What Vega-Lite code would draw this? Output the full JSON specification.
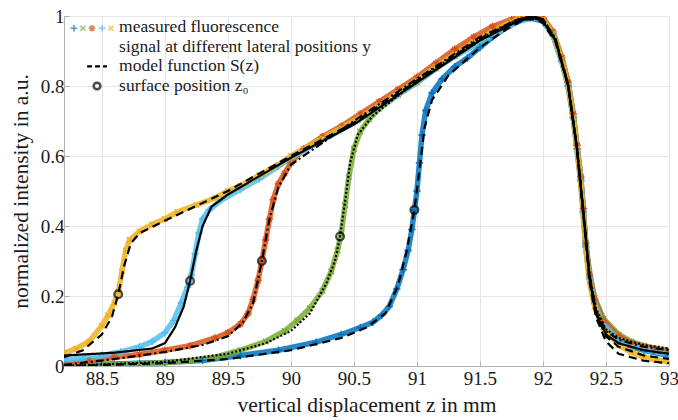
{
  "$schema": "https://vega.github.io/schema/vega-lite/v6.json",
  "autosize": {"type": "none"},
  "padding": {"left": 64, "top": 16, "right": 9, "bottom": 54},
  "width": 605,
  "height": 350,
  "config": {
    "view": {"stroke": null},
    "axis": {
      "labelFont": "Liberation Serif, serif",
      "titleFont": "Liberation Serif, serif",
      "labelFontSize": 19,
      "titleFontSize": 21.5,
      "titleFontWeight": "normal",
      "labelColor": "#1a1a1a",
      "titleColor": "#1a1a1a",
      "gridColor": "#e6e6e6",
      "domainColor": "#b0b0b0",
      "tickColor": "#b0b0b0",
      "tickSize": -5
    }
  },
  "datasets": {
    "meas": [
      {"s":"s1","z":88.2,"v":0.003},{"s":"s1","z":88.5,"v":0.005},{"s":"s1","z":88.8,"v":0.008},{"s":"s1","z":89.0,"v":0.01},{"s":"s1","z":89.3,"v":0.016},{"s":"s1","z":89.6,"v":0.03},{"s":"s1","z":89.9,"v":0.045},{"s":"s1","z":90.2,"v":0.068},{"s":"s1","z":90.4,"v":0.09},{"s":"s1","z":90.55,"v":0.11},{"s":"s1","z":90.65,"v":0.125},{"s":"s1","z":90.72,"v":0.145},{"s":"s1","z":90.78,"v":0.17},{"s":"s1","z":90.84,"v":0.22},{"s":"s1","z":90.89,"v":0.275},{"s":"s1","z":90.93,"v":0.33},{"s":"s1","z":90.96,"v":0.39},{"s":"s1","z":90.98,"v":0.445},{"s":"s1","z":91.0,"v":0.5},{"s":"s1","z":91.02,"v":0.58},{"s":"s1","z":91.04,"v":0.66},{"s":"s1","z":91.07,"v":0.73},{"s":"s1","z":91.12,"v":0.78},{"s":"s1","z":91.2,"v":0.82},{"s":"s1","z":91.3,"v":0.855},{"s":"s1","z":91.4,"v":0.88},{"s":"s1","z":91.5,"v":0.91},{"s":"s1","z":91.6,"v":0.94},{"s":"s1","z":91.7,"v":0.965},{"s":"s1","z":91.8,"v":0.985},{"s":"s1","z":91.9,"v":0.995},{"s":"s1","z":92.0,"v":0.985},{"s":"s1","z":92.08,"v":0.945},{"s":"s1","z":92.15,"v":0.87},{"s":"s1","z":92.2,"v":0.8},{"s":"s1","z":92.24,"v":0.71},{"s":"s1","z":92.27,"v":0.62},{"s":"s1","z":92.3,"v":0.53},{"s":"s1","z":92.32,"v":0.44},{"s":"s1","z":92.34,"v":0.34},{"s":"s1","z":92.37,"v":0.25},{"s":"s1","z":92.41,"v":0.18},{"s":"s1","z":92.48,"v":0.12},{"s":"s1","z":92.6,"v":0.075},{"s":"s1","z":92.7,"v":0.055},{"s":"s1","z":92.8,"v":0.045},{"s":"s1","z":92.9,"v":0.037},{"s":"s1","z":93.0,"v":0.03},

      {"s":"s2","z":88.2,"v":0.0},{"s":"s2","z":88.5,"v":0.003},{"s":"s2","z":88.8,"v":0.007},{"s":"s2","z":89.0,"v":0.01},{"s":"s2","z":89.2,"v":0.015},{"s":"s2","z":89.4,"v":0.025},{"s":"s2","z":89.6,"v":0.045},{"s":"s2","z":89.8,"v":0.07},{"s":"s2","z":89.95,"v":0.1},{"s":"s2","z":90.05,"v":0.13},{"s":"s2","z":90.15,"v":0.165},{"s":"s2","z":90.25,"v":0.215},{"s":"s2","z":90.32,"v":0.27},{"s":"s2","z":90.37,"v":0.33},{"s":"s2","z":90.4,"v":0.38},{"s":"s2","z":90.43,"v":0.46},{"s":"s2","z":90.46,"v":0.54},{"s":"s2","z":90.5,"v":0.62},{"s":"s2","z":90.55,"v":0.67},{"s":"s2","z":90.62,"v":0.705},{"s":"s2","z":90.7,"v":0.735},{"s":"s2","z":90.85,"v":0.775},{"s":"s2","z":91.0,"v":0.81},{"s":"s2","z":91.15,"v":0.85},{"s":"s2","z":91.3,"v":0.885},{"s":"s2","z":91.45,"v":0.92},{"s":"s2","z":91.6,"v":0.95},{"s":"s2","z":91.75,"v":0.98},{"s":"s2","z":91.85,"v":0.995},{"s":"s2","z":91.95,"v":1.0},{"s":"s2","z":92.0,"v":0.99},{"s":"s2","z":92.08,"v":0.95},{"s":"s2","z":92.15,"v":0.88},{"s":"s2","z":92.2,"v":0.81},{"s":"s2","z":92.24,"v":0.72},{"s":"s2","z":92.27,"v":0.63},{"s":"s2","z":92.3,"v":0.54},{"s":"s2","z":92.32,"v":0.45},{"s":"s2","z":92.34,"v":0.35},{"s":"s2","z":92.37,"v":0.265},{"s":"s2","z":92.41,"v":0.195},{"s":"s2","z":92.48,"v":0.135},{"s":"s2","z":92.6,"v":0.09},{"s":"s2","z":92.7,"v":0.07},{"s":"s2","z":92.8,"v":0.058},{"s":"s2","z":92.9,"v":0.05},{"s":"s2","z":93.0,"v":0.045},

      {"s":"s3","z":88.2,"v":0.005},{"s":"s3","z":88.4,"v":0.015},{"s":"s3","z":88.6,"v":0.025},{"s":"s3","z":88.8,"v":0.033},{"s":"s3","z":89.0,"v":0.045},{"s":"s3","z":89.2,"v":0.058},{"s":"s3","z":89.4,"v":0.08},{"s":"s3","z":89.5,"v":0.095},{"s":"s3","z":89.6,"v":0.12},{"s":"s3","z":89.66,"v":0.15},{"s":"s3","z":89.7,"v":0.19},{"s":"s3","z":89.74,"v":0.245},{"s":"s3","z":89.77,"v":0.3},{"s":"s3","z":89.8,"v":0.36},{"s":"s3","z":89.83,"v":0.42},{"s":"s3","z":89.86,"v":0.475},{"s":"s3","z":89.9,"v":0.52},{"s":"s3","z":89.95,"v":0.55},{"s":"s3","z":90.0,"v":0.58},{"s":"s3","z":90.1,"v":0.62},{"s":"s3","z":90.25,"v":0.655},{"s":"s3","z":90.4,"v":0.685},{"s":"s3","z":90.55,"v":0.72},{"s":"s3","z":90.7,"v":0.755},{"s":"s3","z":90.85,"v":0.79},{"s":"s3","z":91.0,"v":0.825},{"s":"s3","z":91.15,"v":0.865},{"s":"s3","z":91.3,"v":0.905},{"s":"s3","z":91.45,"v":0.94},{"s":"s3","z":91.6,"v":0.97},{"s":"s3","z":91.75,"v":0.99},{"s":"s3","z":91.85,"v":1.0},{"s":"s3","z":91.95,"v":1.0},{"s":"s3","z":92.0,"v":0.995},{"s":"s3","z":92.08,"v":0.955},{"s":"s3","z":92.15,"v":0.88},{"s":"s3","z":92.2,"v":0.81},{"s":"s3","z":92.24,"v":0.72},{"s":"s3","z":92.27,"v":0.63},{"s":"s3","z":92.3,"v":0.54},{"s":"s3","z":92.32,"v":0.45},{"s":"s3","z":92.34,"v":0.35},{"s":"s3","z":92.37,"v":0.26},{"s":"s3","z":92.41,"v":0.19},{"s":"s3","z":92.48,"v":0.13},{"s":"s3","z":92.6,"v":0.085},{"s":"s3","z":92.7,"v":0.065},{"s":"s3","z":92.8,"v":0.055},{"s":"s3","z":92.9,"v":0.047},{"s":"s3","z":93.0,"v":0.04},

      {"s":"s4","z":88.2,"v":0.018},{"s":"s4","z":88.35,"v":0.022},{"s":"s4","z":88.5,"v":0.03},{"s":"s4","z":88.65,"v":0.04},{"s":"s4","z":88.8,"v":0.055},{"s":"s4","z":88.9,"v":0.07},{"s":"s4","z":89.0,"v":0.095},{"s":"s4","z":89.07,"v":0.13},{"s":"s4","z":89.13,"v":0.18},{"s":"s4","z":89.18,"v":0.225},{"s":"s4","z":89.21,"v":0.26},{"s":"s4","z":89.24,"v":0.32},{"s":"s4","z":89.27,"v":0.38},{"s":"s4","z":89.3,"v":0.42},{"s":"s4","z":89.35,"v":0.445},{"s":"s4","z":89.45,"v":0.475},{"s":"s4","z":89.6,"v":0.505},{"s":"s4","z":89.75,"v":0.535},{"s":"s4","z":89.9,"v":0.57},{"s":"s4","z":90.0,"v":0.595},{"s":"s4","z":90.1,"v":0.615},{"s":"s4","z":90.25,"v":0.645},{"s":"s4","z":90.4,"v":0.675},{"s":"s4","z":90.55,"v":0.705},{"s":"s4","z":90.7,"v":0.74},{"s":"s4","z":90.85,"v":0.775},{"s":"s4","z":91.0,"v":0.81},{"s":"s4","z":91.15,"v":0.85},{"s":"s4","z":91.3,"v":0.885},{"s":"s4","z":91.45,"v":0.915},{"s":"s4","z":91.6,"v":0.945},{"s":"s4","z":91.75,"v":0.975},{"s":"s4","z":91.85,"v":0.99},{"s":"s4","z":91.95,"v":0.995},{"s":"s4","z":92.0,"v":0.985},{"s":"s4","z":92.08,"v":0.945},{"s":"s4","z":92.15,"v":0.87},{"s":"s4","z":92.2,"v":0.8},{"s":"s4","z":92.24,"v":0.71},{"s":"s4","z":92.27,"v":0.62},{"s":"s4","z":92.3,"v":0.53},{"s":"s4","z":92.32,"v":0.44},{"s":"s4","z":92.34,"v":0.34},{"s":"s4","z":92.37,"v":0.25},{"s":"s4","z":92.41,"v":0.18},{"s":"s4","z":92.48,"v":0.12},{"s":"s4","z":92.6,"v":0.075},{"s":"s4","z":92.7,"v":0.058},{"s":"s4","z":92.8,"v":0.048},{"s":"s4","z":92.9,"v":0.04},{"s":"s4","z":93.0,"v":0.034},

      {"s":"s5","z":88.2,"v":0.037},{"s":"s5","z":88.3,"v":0.05},{"s":"s5","z":88.4,"v":0.07},{"s":"s5","z":88.5,"v":0.115},{"s":"s5","z":88.55,"v":0.145},{"s":"s5","z":88.6,"v":0.18},{"s":"s5","z":88.63,"v":0.21},{"s":"s5","z":88.66,"v":0.27},{"s":"s5","z":88.69,"v":0.33},{"s":"s5","z":88.72,"v":0.36},{"s":"s5","z":88.8,"v":0.385},{"s":"s5","z":88.9,"v":0.405},{"s":"s5","z":89.0,"v":0.42},{"s":"s5","z":89.1,"v":0.44},{"s":"s5","z":89.25,"v":0.46},{"s":"s5","z":89.4,"v":0.48},{"s":"s5","z":89.5,"v":0.5},{"s":"s5","z":89.6,"v":0.515},{"s":"s5","z":89.75,"v":0.545},{"s":"s5","z":89.9,"v":0.575},{"s":"s5","z":90.0,"v":0.6},{"s":"s5","z":90.1,"v":0.62},{"s":"s5","z":90.25,"v":0.65},{"s":"s5","z":90.4,"v":0.68},{"s":"s5","z":90.55,"v":0.71},{"s":"s5","z":90.7,"v":0.745},{"s":"s5","z":90.85,"v":0.78},{"s":"s5","z":91.0,"v":0.815},{"s":"s5","z":91.15,"v":0.855},{"s":"s5","z":91.3,"v":0.89},{"s":"s5","z":91.45,"v":0.925},{"s":"s5","z":91.6,"v":0.955},{"s":"s5","z":91.75,"v":0.985},{"s":"s5","z":91.85,"v":1.0},{"s":"s5","z":91.95,"v":1.0},{"s":"s5","z":92.0,"v":0.99},{"s":"s5","z":92.08,"v":0.95},{"s":"s5","z":92.15,"v":0.875},{"s":"s5","z":92.2,"v":0.8},{"s":"s5","z":92.24,"v":0.71},{"s":"s5","z":92.27,"v":0.62},{"s":"s5","z":92.3,"v":0.52},{"s":"s5","z":92.32,"v":0.43},{"s":"s5","z":92.34,"v":0.33},{"s":"s5","z":92.37,"v":0.24},{"s":"s5","z":92.41,"v":0.17},{"s":"s5","z":92.48,"v":0.11},{"s":"s5","z":92.6,"v":0.06},{"s":"s5","z":92.7,"v":0.04},{"s":"s5","z":92.8,"v":0.025},{"s":"s5","z":92.9,"v":0.017},{"s":"s5","z":93.0,"v":0.012}
    ],
    "model": [
      {"s":"s1","z":88.2,"v":0.0},{"s":"s1","z":89.0,"v":0.008},{"s":"s1","z":89.5,"v":0.02},{"s":"s1","z":90.0,"v":0.045},{"s":"s1","z":90.4,"v":0.08},{"s":"s1","z":90.6,"v":0.11},{"s":"s1","z":90.75,"v":0.15},{"s":"s1","z":90.85,"v":0.23},{"s":"s1","z":90.92,"v":0.33},{"s":"s1","z":90.98,"v":0.446},{"s":"s1","z":91.02,"v":0.56},{"s":"s1","z":91.06,"v":0.68},{"s":"s1","z":91.12,"v":0.76},{"s":"s1","z":91.25,"v":0.83},{"s":"s1","z":91.5,"v":0.91},{"s":"s1","z":91.7,"v":0.96},{"s":"s1","z":91.85,"v":0.99},{"s":"s1","z":91.95,"v":0.99},{"s":"s1","z":92.0,"v":0.98},{"s":"s1","z":92.1,"v":0.925},{"s":"s1","z":92.2,"v":0.8},{"s":"s1","z":92.27,"v":0.62},{"s":"s1","z":92.32,"v":0.44},{"s":"s1","z":92.37,"v":0.25},{"s":"s1","z":92.42,"v":0.15},{"s":"s1","z":92.5,"v":0.085},{"s":"s1","z":92.6,"v":0.055},{"s":"s1","z":92.8,"v":0.03},{"s":"s1","z":93.0,"v":0.02},

      {"s":"s2","z":88.2,"v":0.0},{"s":"s2","z":89.0,"v":0.012},{"s":"s2","z":89.5,"v":0.035},{"s":"s2","z":89.8,"v":0.065},{"s":"s2","z":90.0,"v":0.1},{"s":"s2","z":90.15,"v":0.15},{"s":"s2","z":90.28,"v":0.235},{"s":"s2","z":90.35,"v":0.3},{"s":"s2","z":90.39,"v":0.37},{"s":"s2","z":90.43,"v":0.47},{"s":"s2","z":90.47,"v":0.58},{"s":"s2","z":90.53,"v":0.66},{"s":"s2","z":90.65,"v":0.715},{"s":"s2","z":91.0,"v":0.815},{"s":"s2","z":91.5,"v":0.935},{"s":"s2","z":91.8,"v":0.99},{"s":"s2","z":91.92,"v":1.0},{"s":"s2","z":92.0,"v":0.99},{"s":"s2","z":92.1,"v":0.935},{"s":"s2","z":92.2,"v":0.805},{"s":"s2","z":92.27,"v":0.625},{"s":"s2","z":92.32,"v":0.445},{"s":"s2","z":92.37,"v":0.26},{"s":"s2","z":92.42,"v":0.165},{"s":"s2","z":92.5,"v":0.105},{"s":"s2","z":92.6,"v":0.08},{"s":"s2","z":92.8,"v":0.06},{"s":"s2","z":93.0,"v":0.05},

      {"s":"s3","z":88.2,"v":0.003},{"s":"s3","z":88.6,"v":0.02},{"s":"s3","z":89.0,"v":0.04},{"s":"s3","z":89.3,"v":0.06},{"s":"s3","z":89.5,"v":0.085},{"s":"s3","z":89.62,"v":0.125},{"s":"s3","z":89.7,"v":0.18},{"s":"s3","z":89.77,"v":0.3},{"s":"s3","z":89.83,"v":0.42},{"s":"s3","z":89.9,"v":0.51},{"s":"s3","z":90.0,"v":0.575},{"s":"s3","z":90.5,"v":0.7},{"s":"s3","z":91.0,"v":0.82},{"s":"s3","z":91.5,"v":0.94},{"s":"s3","z":91.8,"v":0.99},{"s":"s3","z":91.92,"v":1.0},{"s":"s3","z":92.0,"v":0.99},{"s":"s3","z":92.1,"v":0.935},{"s":"s3","z":92.2,"v":0.805},{"s":"s3","z":92.27,"v":0.625},{"s":"s3","z":92.32,"v":0.445},{"s":"s3","z":92.37,"v":0.26},{"s":"s3","z":92.42,"v":0.16},{"s":"s3","z":92.5,"v":0.1},{"s":"s3","z":92.6,"v":0.075},{"s":"s3","z":92.8,"v":0.055},{"s":"s3","z":93.0,"v":0.045},

      {"s":"s4","z":88.2,"v":0.03},{"s":"s4","z":88.6,"v":0.038},{"s":"s4","z":88.9,"v":0.05},{"s":"s4","z":89.0,"v":0.065},{"s":"s4","z":89.08,"v":0.11},{"s":"s4","z":89.15,"v":0.17},{"s":"s4","z":89.2,"v":0.243},{"s":"s4","z":89.25,"v":0.33},{"s":"s4","z":89.3,"v":0.4},{"s":"s4","z":89.37,"v":0.455},{"s":"s4","z":89.5,"v":0.49},{"s":"s4","z":90.0,"v":0.595},{"s":"s4","z":90.5,"v":0.69},{"s":"s4","z":91.0,"v":0.81},{"s":"s4","z":91.5,"v":0.93},{"s":"s4","z":91.8,"v":0.985},{"s":"s4","z":91.92,"v":0.995},{"s":"s4","z":92.0,"v":0.985},{"s":"s4","z":92.1,"v":0.93},{"s":"s4","z":92.2,"v":0.8},{"s":"s4","z":92.27,"v":0.62},{"s":"s4","z":92.32,"v":0.44},{"s":"s4","z":92.37,"v":0.25},{"s":"s4","z":92.42,"v":0.15},{"s":"s4","z":92.5,"v":0.09},{"s":"s4","z":92.6,"v":0.065},{"s":"s4","z":92.8,"v":0.045},{"s":"s4","z":93.0,"v":0.035},

      {"s":"s5","z":88.2,"v":0.025},{"s":"s5","z":88.35,"v":0.045},{"s":"s5","z":88.5,"v":0.09},{"s":"s5","z":88.58,"v":0.14},{"s":"s5","z":88.63,"v":0.205},{"s":"s5","z":88.68,"v":0.29},{"s":"s5","z":88.73,"v":0.35},{"s":"s5","z":88.8,"v":0.38},{"s":"s5","z":89.0,"v":0.415},{"s":"s5","z":89.5,"v":0.5},{"s":"s5","z":90.0,"v":0.6},{"s":"s5","z":90.5,"v":0.695},{"s":"s5","z":91.0,"v":0.815},{"s":"s5","z":91.5,"v":0.935},{"s":"s5","z":91.8,"v":0.99},{"s":"s5","z":91.92,"v":1.0},{"s":"s5","z":92.0,"v":0.99},{"s":"s5","z":92.1,"v":0.93},{"s":"s5","z":92.2,"v":0.8},{"s":"s5","z":92.27,"v":0.62},{"s":"s5","z":92.32,"v":0.43},{"s":"s5","z":92.37,"v":0.24},{"s":"s5","z":92.42,"v":0.14},{"s":"s5","z":92.5,"v":0.07},{"s":"s5","z":92.6,"v":0.035},{"s":"s5","z":92.8,"v":0.015},{"s":"s5","z":93.0,"v":0.008}
    ],
    "z0": [
      {"s":"s1","z":90.98,"v":0.446},
      {"s":"s2","z":90.39,"v":0.37},
      {"s":"s3","z":89.77,"v":0.3},
      {"s":"s4","z":89.2,"v":0.243},
      {"s":"s5","z":88.63,"v":0.205}
    ],
    "legsym": [
      {"s":"s1","lz":88.279},{"s":"s2","lz":88.35},{"s":"s3","lz":88.422},{"s":"s4","lz":88.502},{"s":"s5","lz":88.573}
    ],
    "legtext": [
      {"t": "measured fluorescence", "k": 0.969},
      {"t": "signal at different lateral positions y", "k": 0.912},
      {"t": "model function S(z)", "k": 0.856},
      {"t": "surface position z₀", "k": 0.8}
    ]
  },
  "layer": [
    {
      "data": {"name": "meas"},
      "mark": {"type": "line", "strokeWidth": 5.5, "opacity": 0.85, "clip": true},
      "encoding": {
        "x": {"field": "z", "type": "quantitative", "scale": {"domain": [88.2, 93], "nice": false, "zero": false},
          "axis": {"values": [88.5, 89, 89.5, 90, 90.5, 91, 91.5, 92, 92.5, 93], "format": "~g", "title": "vertical displacement z in mm", "labelPadding": 8, "titlePadding": 6, "labelFlush": false}},
        "y": {"field": "v", "type": "quantitative", "scale": {"domain": [0, 1], "nice": false},
          "axis": {"values": [0, 0.2, 0.4, 0.6, 0.8, 1], "format": "~g", "title": "normalized intensity in a.u.", "labelPadding": 5, "titlePadding": 8, "labelFlush": false}},
        "color": {"field": "s", "type": "nominal", "scale": {"domain": ["s1","s2","s3","s4","s5"], "range": ["#0072BD","#77AC30","#D95319","#4DBEEE","#EDB120"]}, "legend": null}
      }
    },
    {
      "data": {"name": "meas"},
      "mark": {"type": "point", "filled": false, "size": 55, "strokeWidth": 1.3, "opacity": 1, "clip": true},
      "encoding": {
        "x": {"field": "z", "type": "quantitative"},
        "y": {"field": "v", "type": "quantitative"},
        "color": {"field": "s", "type": "nominal", "legend": null},
        "shape": {"field": "s", "type": "nominal", "legend": null, "scale": {"domain": ["s1","s2","s3","s4","s5"], "range": ["M-1,0H1M0,-1V1", "M-0.75,-0.75L0.75,0.75M-0.75,0.75L0.75,-0.75", "M-1,0H1M0,-1V1M-0.7,-0.7L0.7,0.7M-0.7,0.7L0.7,-0.7", "M-1,0H1M0,-1V1", "M-0.75,-0.75L0.75,0.75M-0.75,0.75L0.75,-0.75"]}}
      }
    },
    {
      "data": {"name": "model"},
      "mark": {"type": "line", "color": "black", "strokeWidth": 2.2, "clip": true},
      "encoding": {
        "x": {"field": "z", "type": "quantitative"},
        "y": {"field": "v", "type": "quantitative"},
        "detail": {"field": "s", "type": "nominal"},
        "strokeDash": {"field": "s", "type": "nominal", "legend": null, "scale": {"domain": ["s1","s2","s3","s4","s5"], "range": [[8,5],[2,2],[8,3,2,3],[1,0],[8,5]]}}
      }
    },
    {
      "data": {"name": "z0"},
      "mark": {"type": "point", "shape": "circle", "filled": false, "color": "black", "size": 60, "strokeWidth": 2.3},
      "encoding": {
        "x": {"field": "z", "type": "quantitative"},
        "y": {"field": "v", "type": "quantitative"}
      }
    },
    {
      "data": {"name": "legsym"},
      "mark": {"type": "point", "filled": false, "size": 45, "strokeWidth": 1.6},
      "encoding": {
        "x": {"field": "lz", "type": "quantitative"},
        "y": {"datum": 0.965},
        "color": {"field": "s", "type": "nominal", "legend": null},
        "shape": {"field": "s", "type": "nominal", "legend": null}
      }
    },
    {
      "data": {"values": [{"a": 88.383, "b": 88.541, "c": 0.856}]},
      "mark": {"type": "rule", "color": "black", "strokeWidth": 2.2, "strokeDash": [5, 3]},
      "encoding": {
        "x": {"field": "a", "type": "quantitative"},
        "x2": {"field": "b"},
        "y": {"field": "c", "type": "quantitative"}
      }
    },
    {
      "data": {"values": [{"a": 88.462, "c": 0.8}]},
      "mark": {"type": "point", "shape": "circle", "filled": false, "color": "black", "size": 45, "strokeWidth": 2.5},
      "encoding": {
        "x": {"field": "a", "type": "quantitative"},
        "y": {"field": "c", "type": "quantitative"}
      }
    },
    {
      "data": {"name": "legtext"},
      "mark": {"type": "text", "align": "left", "baseline": "middle", "font": "Liberation Serif, serif", "fontSize": 17.5, "color": "#1a1a1a"},
      "encoding": {
        "x": {"datum": 88.637},
        "y": {"field": "k", "type": "quantitative"},
        "text": {"field": "t"}
      }
    }
  ]
}
